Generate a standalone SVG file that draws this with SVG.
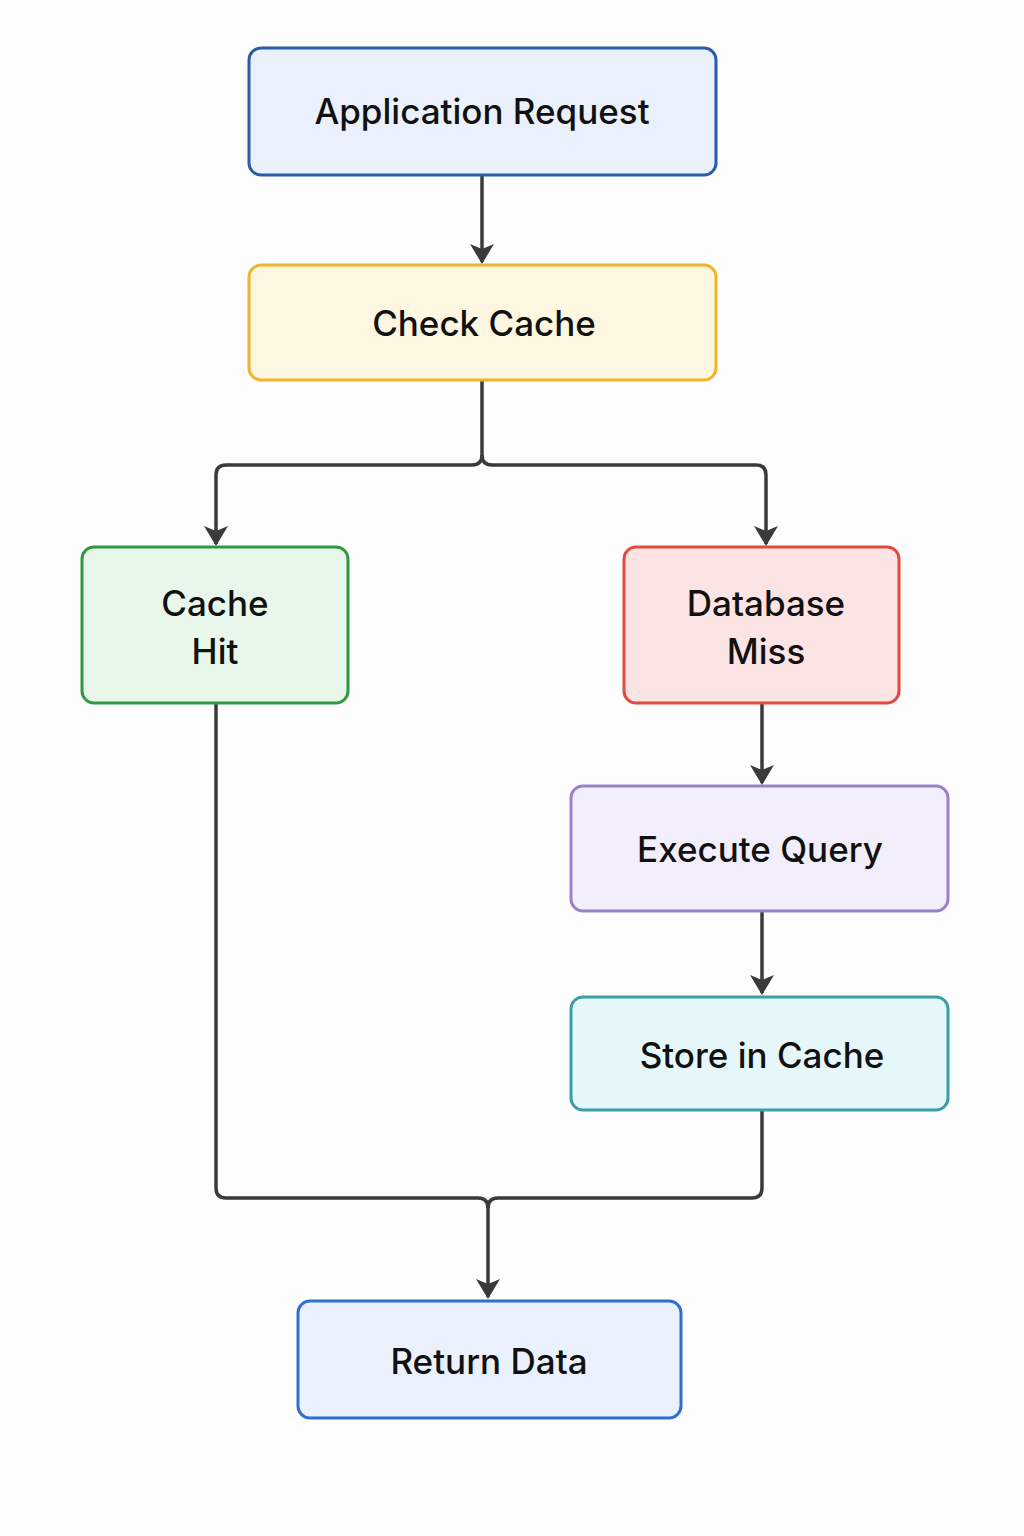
<svg xmlns="http://www.w3.org/2000/svg" width="1024" height="1536" viewBox="0 0 1024 1536">
<style>
.n{stroke-width:3}
.t{font-family:Inter,"Liberation Sans",sans-serif;font-size:35px;font-weight:500;fill:#111;text-anchor:middle}
.c{fill:none;stroke:#3a3a3a;stroke-width:3.5;stroke-linejoin:round}
</style>
<defs><marker id="a" markerWidth="10" markerHeight="10" refX="5" refY="8" orient="auto" markerUnits="userSpaceOnUse" viewBox="0 0 10 10"><path d="M0,0 L10,0 L5,10z" fill="#3a3a3a" transform="scale(1)"/></marker>
<marker id="h" viewBox="0 0 24 20" markerWidth="24" markerHeight="20" refX="12" refY="18" orient="0" markerUnits="userSpaceOnUse"><path d="M0,0 L12,5 L24,0 L12,20z" fill="#3a3a3a"/></marker></defs>
<rect width="1024" height="1536" fill="#fdfdfd"/>
<g id="connectors">
<path class="c" d="M482,175 V262" marker-end="url(#h)"/>
<path class="c" d="M482,380 V455 Q482,465 472,465 H226 Q216,465 216,475 V544" marker-end="url(#h)"/>
<path class="c" d="M482,455 Q482,465 492,465 H756 Q766,465 766,475 V544" marker-end="url(#h)"/>
<path class="c" d="M762,703 V783" marker-end="url(#h)"/>
<path class="c" d="M762,911 V993" marker-end="url(#h)"/>
<path class="c" d="M216,703 V1188 Q216,1198 226,1198 H478 Q488,1198 488,1208 V1297" marker-end="url(#h)"/>
<path class="c" d="M762,1110 V1188 Q762,1198 752,1198 H498 Q488,1198 488,1208"/>
</g>
<g id="app"><rect class="n" x="249" y="48" width="467" height="127" rx="12" fill="#ebf1fc" stroke="#2a5ba8"/><text class="t" x="482" y="124">Application Request</text></g>
<g id="check"><rect class="n" x="249" y="265" width="467" height="115" rx="12" fill="#fdf7e1" stroke="#f0b42e"/><text class="t" x="484" y="336">Check Cache</text></g>
<g id="hit"><rect class="n" x="82" y="547" width="266" height="156" rx="12" fill="#e9f7ea" stroke="#2f9a3f"/><text class="t" x="215" y="616">Cache</text><text class="t" x="215" y="664">Hit</text></g>
<g id="miss"><rect class="n" x="624" y="547" width="275" height="156" rx="12" fill="#fde4e4" stroke="#e04a40"/><text class="t" x="766" y="616">Database</text><text class="t" x="766" y="664">Miss</text></g>
<g id="exec"><rect class="n" x="571" y="786" width="377" height="125" rx="12" fill="#f3eefb" stroke="#9a82c8"/><text class="t" x="760" y="862">Execute Query</text></g>
<g id="store"><rect class="n" x="571" y="997" width="377" height="113" rx="12" fill="#e6f7fa" stroke="#3a9ea8"/><text class="t" x="762" y="1068">Store in Cache</text></g>
<g id="ret"><rect class="n" x="298" y="1301" width="383" height="117" rx="12" fill="#ebf1fc" stroke="#2f6fd0"/><text class="t" x="489" y="1374">Return Data</text></g>
</svg>
